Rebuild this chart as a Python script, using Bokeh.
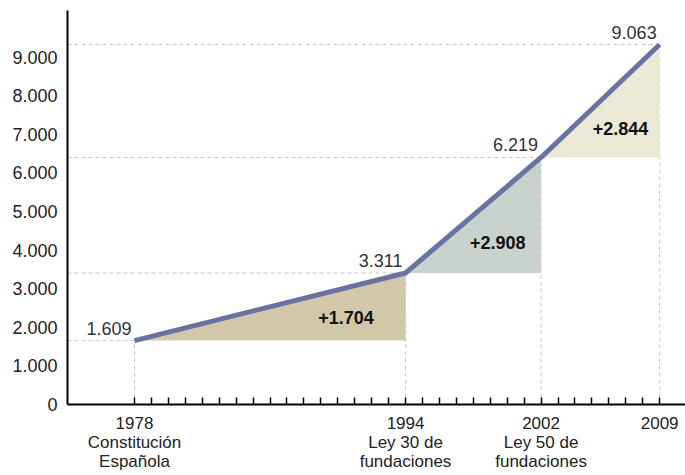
from bokeh.plotting import figure
from bokeh.models import Range1d, FixedTicker, Label, ColumnDataSource
from bokeh.core.properties import value
from bokeh.embed import file_html
from bokeh.resources import INLINE

# ---- data ----
years = [1978, 1994, 2002, 2009]
values = [1609, 3311, 6219, 9063]
value_labels = ["1.609", "3.311", "6.219", "9.063"]
delta_labels = ["+1.704", "+2.908", "+2.844"]
fill_colors = ["#d3c7a9", "#c9d1cc", "#ece8d6"]
event_labels = ["1978\nConstitución\nEspañola",
                "1994\nLey 30 de\nfundaciones",
                "2002\nLey 50 de\nfundaciones",
                "2009"]
ytick_values = [0, 1000, 2000, 3000, 4000, 5000, 6000, 7000, 8000, 9000]
ytick_labels = ["0", "1.000", "2.000", "3.000", "4.000", "5.000",
                "6.000", "7.000", "8.000", "9.000"]
minor_years = list(range(1978, 2010))

# ---- layout ----
FW, FH = 618, 394
BL, BR, BT = 67, 0, 10
px_per_year = 16.94
x0 = 1978 - 67 / px_per_year
x1 = x0 + FW / px_per_year
y_max = 9919

p = figure(frame_width=FW, frame_height=FH, output_backend="svg",
           toolbar_location=None,
           x_range=Range1d(x0, x1), y_range=Range1d(0, y_max),
           min_border_left=BL, min_border_right=BR, min_border_top=BT,
           min_border_bottom=0)
p.outline_line_color = None
p.grid.visible = False
p.background_fill_color = "white"
p.border_fill_color = "white"

# axes
p.xaxis.ticker = FixedTicker(ticks=minor_years)
p.xaxis.major_tick_in = 7
p.xaxis.major_tick_out = 0
p.xaxis.major_tick_line_width = 1.5
p.xaxis.major_tick_line_color = "black"
p.xaxis.minor_tick_line_color = None
overrides = {yr: "" for yr in minor_years}
for yr, lab in zip(years, event_labels):
    overrides[yr] = lab
p.xaxis.major_label_overrides = overrides
p.xaxis.major_label_text_font = "Liberation Sans"
p.xaxis.major_label_text_font_size = "17px"
p.xaxis.major_label_text_line_height = 1.0
p.xaxis.major_label_text_color = "#222222"
p.xaxis.major_label_standoff = 9
p.xaxis.axis_line_width = 2
p.xaxis.axis_line_color = "black"

# tick labels placed as in the reference (slightly compressed spacing)
ytick_pos = [v * 0.972 for v in ytick_values]
p.yaxis.ticker = FixedTicker(ticks=ytick_pos)
p.yaxis.major_label_overrides = {pos: lab for pos, lab in zip(ytick_pos, ytick_labels)}
p.yaxis.major_tick_in = 0
p.yaxis.major_tick_out = 0
p.yaxis.minor_tick_line_color = None
p.yaxis.major_label_standoff = 10
p.yaxis.major_label_text_font = "Liberation Sans"
p.yaxis.major_label_text_font_size = "18px"
p.yaxis.major_label_text_color = "#222222"
p.yaxis.axis_line_width = 2
p.yaxis.axis_line_color = "black"

# dashed guide lines
for x, y in zip(years, values):
    p.line([x0, x], [y, y], line_color="#c8c8c8", line_width=1, line_dash="4 3")
    p.line([x, x], [0, y], line_color="#c8c8c8", line_width=1, line_dash="4 3")

# triangles
for i in range(len(years) - 1):
    xs = [years[i], years[i + 1], years[i + 1]]
    ys = [values[i], values[i + 1], values[i]]
    p.patch(xs, ys, fill_color=fill_colors[i], line_color=None)

# main line
p.line(years, values, line_color="#6873a2", line_width=5)

# value labels
src = ColumnDataSource(dict(x=years, y=values, t=value_labels))
p.text(x="x", y="y", text="t", source=src, text_align="right",
       text_baseline="bottom", x_offset=-3, y_offset=-6,
       text_font=value("Liberation Sans"), text_font_size="18px",
       text_color="#333333")

# delta labels
fx = [0.78, 0.68, 0.67]
fy = [0.34, 0.26, 0.26]
for i, lab in enumerate(delta_labels):
    lx = years[i] + fx[i] * (years[i + 1] - years[i])
    ly = values[i] + fy[i] * (values[i + 1] - values[i])
    p.add_layout(Label(x=lx, y=ly, text=lab, text_align="center",
                       text_baseline="middle", text_font="Liberation Sans",
                       text_font_style="bold", text_font_size="18px",
                       text_color="#111111"))

open("out.html", "w").write(file_html(p, INLINE))
